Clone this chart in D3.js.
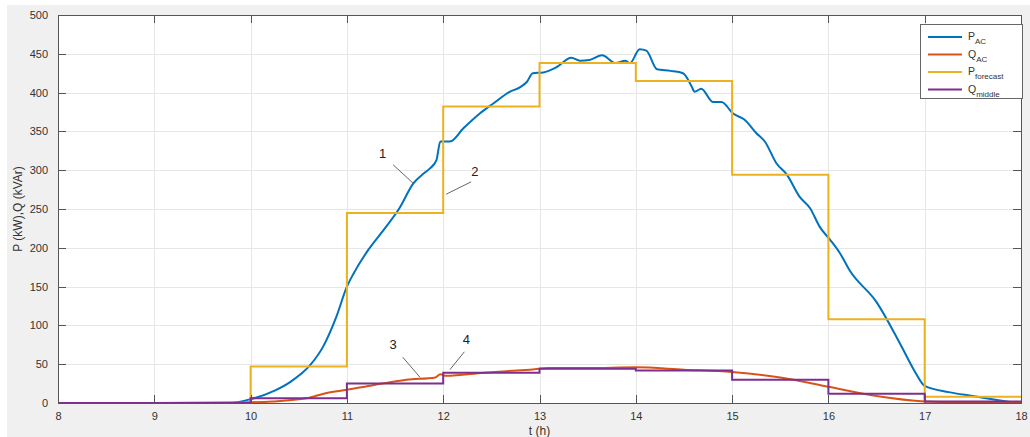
<!DOCTYPE html>
<html>
<head>
<meta charset="utf-8">
<script src="https://cdn.jsdelivr.net/npm/d3@7/dist/d3.min.js"></script>
<style>
  body { margin: 0; background: #fff; }
  svg { display: block; font-family: "Liberation Sans", Arial, sans-serif; }
</style>
</head>
<body>
<script>
// data
var pacT = [8, 8.5, 9, 9.5, 9.8, 10, 10.25, 10.41, 10.62, 10.75, 10.89, 11, 11.07, 11.22, 11.4, 11.55, 11.69, 11.8, 11.86, 11.93, 11.97, 12.07, 12.21, 12.38, 12.52, 12.69, 12.8, 12.87, 12.93, 13.04, 13.18, 13.33, 13.42, 13.52, 13.65, 13.79, 13.89, 13.94, 14.04, 14.11, 14.22, 14.36, 14.49, 14.58, 14.61, 14.68, 14.8, 14.89, 15.01, 15.13, 15.25, 15.34, 15.46, 15.57, 15.7, 15.81, 15.91, 16.02, 16.12, 16.22, 16.5, 16.75, 16.9, 17, 17.25, 17.5, 17.75, 17.9, 18];
var pacV = [0, -0.5, -1, -1, 0, 5, 16, 27, 49, 72, 111, 150, 167, 197, 226, 252, 283, 296, 302, 313, 337, 337, 354, 373, 386, 401, 407, 414, 425, 426, 433, 445, 441, 442, 448, 438, 441, 438, 456, 454, 430, 428, 425, 408, 401, 405, 388, 388, 373, 365, 348, 337, 309, 294, 266, 251, 227, 210, 193, 171, 130, 75, 40, 22, 14, 9, 4, 1, -1];

var qacT = [8, 9, 10, 10.23, 10.58, 10.79, 11, 11.27, 11.62, 11.92, 11.97, 12.03, 12.42, 12.9, 13.1, 13.5, 14, 14.5, 15, 15.5, 16, 16.5, 17, 17.5, 18];
var qacV = [0, 0, 1, 2, 6, 13, 17, 23, 30, 33, 37, 35, 39, 43, 45, 45, 46, 43, 40, 33, 21, 9, 2, 0.5, 0];

var stepHours = [8, 9, 10, 11, 12, 13, 14, 15, 16, 17, 18];
var pForecast = [0, 0, 47, 245, 382, 438, 415, 294, 108, 8];
var qMiddle = [0, 0, 6, 25, 39, 44, 42, 30, 12, 2];

var xTicks = [8, 9, 10, 11, 12, 13, 14, 15, 16, 17, 18];
var yTicks = [0, 50, 100, 150, 200, 250, 300, 350, 400, 450, 500];

var legendItems = [
  { main: "P", sub: "AC", color: "#0072BD" },
  { main: "Q", sub: "AC", color: "#D95319" },
  { main: "P", sub: "forecast", color: "#EDB120" },
  { main: "Q", sub: "middle", color: "#7E2F8E" }
];

// callouts: label position and leader line, in data units
var callouts = [
  { text: "1", t: 11.37, v: 316, from: [11.48, 307], to: [11.69, 283] },
  { text: "2", t: 12.33, v: 292, from: [12.29, 285], to: [12.03, 269] },
  { text: "3", t: 11.48, v: 70, from: [11.58, 59], to: [11.76, 33] },
  { text: "4", t: 12.24, v: 76, from: [12.22, 66], to: [12.07, 43] }
];

var W = 1030, H = 437;
var margin = { top: 15, right: 9, bottom: 34, left: 58 };

var svg = d3.select("body").append("svg")
  .attr("width", W)
  .attr("height", H);

// figure background
svg.append("rect").attr("x", 7).attr("y", 5).attr("width", W - 7).attr("height", H - 5).attr("fill", "#f0f0f0");

var x = d3.scaleLinear().domain([8, 18]).range([margin.left, W - margin.right]);
var y = d3.scaleLinear().domain([0, 500]).range([H - margin.bottom, margin.top]);

svg.append("rect")
  .attr("x", x(8)).attr("y", y(500))
  .attr("width", x(18) - x(8)).attr("height", y(0) - y(500))
  .attr("fill", "#fff");

// grid
var grid = svg.append("g").attr("stroke", "#e6e6e6").attr("stroke-width", 1);
grid.selectAll(".gx").data(xTicks.slice(1, -1)).enter().append("line")
  .attr("x1", d => Math.round(x(d)) + 0.5).attr("x2", d => Math.round(x(d)) + 0.5)
  .attr("y1", y(500)).attr("y2", y(0));
grid.selectAll(".gy").data(yTicks.slice(1, -1)).enter().append("line")
  .attr("y1", d => Math.round(y(d)) + 0.5).attr("y2", d => Math.round(y(d)) + 0.5)
  .attr("x1", x(8)).attr("x2", x(18));

// series
var clip = svg.append("clipPath").attr("id", "clip").append("rect")
  .attr("x", x(8)).attr("y", y(500)).attr("width", x(18) - x(8)).attr("height", y(0) - y(500) + 1);
var plot = svg.append("g").attr("clip-path", "url(#clip)");

function stepPoints(vals) {
  var pts = [];
  vals.forEach(function (v, i) { pts.push([stepHours[i], v]); });
  pts.push([stepHours[vals.length], vals[vals.length - 1]]);
  return pts;
}
var stepLine = d3.line().x(d => x(d[0])).y(d => y(d[1])).curve(d3.curveStepAfter);
var smooth = d3.line().x(d => x(d[0])).y(d => y(d[1])).curve(d3.curveMonotoneX);

plot.append("path").datum(pacT.map((t, i) => [t, pacV[i]]))
  .attr("d", smooth).attr("fill", "none").attr("stroke", "#0072BD").attr("stroke-width", 2);
plot.append("path").datum(qacT.map((t, i) => [t, qacV[i]]))
  .attr("d", smooth).attr("fill", "none").attr("stroke", "#D95319").attr("stroke-width", 2);
plot.append("path").datum(stepPoints(pForecast))
  .attr("d", stepLine).attr("fill", "none").attr("stroke", "#EDB120").attr("stroke-width", 2);
plot.append("path").datum(stepPoints(qMiddle))
  .attr("d", stepLine).attr("fill", "none").attr("stroke", "#7E2F8E").attr("stroke-width", 2);

// axes (box with ticks on all sides)
var axisColor = "#555";
var xAxis = svg.append("g").attr("transform", "translate(0," + y(0) + ")")
  .call(d3.axisBottom(x).tickValues(xTicks).tickSize(0).tickPadding(9).tickFormat(d3.format("d")));
var yAxis = svg.append("g").attr("transform", "translate(" + x(8) + ",0)")
  .call(d3.axisLeft(y).tickValues(yTicks).tickSize(0).tickPadding(10).tickFormat(d3.format("d")));
[xAxis, yAxis].forEach(function (g) {
  g.select(".domain").remove();
  g.selectAll("text").attr("fill", "#333").style("font-size", "11px").style("font-family", "'Liberation Sans', Arial, sans-serif");
});

var ticks = svg.append("g").attr("stroke", axisColor).attr("stroke-width", 1);
ticks.selectAll(".tb").data(xTicks.slice(1, -1)).enter().append("line")
  .attr("x1", d => Math.round(x(d)) + 0.5).attr("x2", d => Math.round(x(d)) + 0.5)
  .attr("y1", y(0)).attr("y2", y(0) - 8);
ticks.selectAll(".tt").data(xTicks.slice(1, -1)).enter().append("line")
  .attr("x1", d => Math.round(x(d)) + 0.5).attr("x2", d => Math.round(x(d)) + 0.5)
  .attr("y1", y(500)).attr("y2", y(500) + 8);
ticks.selectAll(".tl").data(yTicks.slice(1, -1)).enter().append("line")
  .attr("y1", d => Math.round(y(d)) + 0.5).attr("y2", d => Math.round(y(d)) + 0.5)
  .attr("x1", x(8)).attr("x2", x(8) + 8);
ticks.selectAll(".tr").data(yTicks.slice(1, -1)).enter().append("line")
  .attr("y1", d => Math.round(y(d)) + 0.5).attr("y2", d => Math.round(y(d)) + 0.5)
  .attr("x1", x(18)).attr("x2", x(18) - 8);

svg.append("rect")
  .attr("x", Math.round(x(8)) + 0.5).attr("y", Math.round(y(500)) + 0.5)
  .attr("width", Math.round(x(18) - x(8))).attr("height", Math.round(y(0) - y(500)))
  .attr("fill", "none").attr("stroke", axisColor).attr("stroke-width", 1);

// axis titles
svg.append("text")
  .attr("x", x(13)).attr("y", H - 2)
  .attr("text-anchor", "middle").attr("fill", "#333").style("font-size", "12px")
  .text("t (h)");
svg.append("text")
  .attr("transform", "translate(22," + y(250) + ") rotate(-90)")
  .attr("text-anchor", "middle").attr("fill", "#333").style("font-size", "12px")
  .text("P (kW),Q (kVAr)");

// callouts
var co = svg.append("g");
callouts.forEach(function (c) {
  co.append("line")
    .attr("x1", x(c.from[0])).attr("y1", y(c.from[1]))
    .attr("x2", x(c.to[0])).attr("y2", y(c.to[1]))
    .attr("stroke", "#666").attr("stroke-width", 1);
  co.append("text")
    .attr("x", x(c.t)).attr("y", y(c.v))
    .attr("text-anchor", "middle").attr("fill", "#222").style("font-size", "13px")
    .text(c.text);
});

// legend
var lx = 920, ly = 24, lw = 102, lh = 74;
var legend = svg.append("g");
legend.append("rect")
  .attr("x", lx + 0.5).attr("y", ly + 0.5).attr("width", lw).attr("height", lh)
  .attr("fill", "#fff").attr("stroke", "#666").attr("stroke-width", 1);
legendItems.forEach(function (d, i) {
  var yy = ly + 13 + i * 17.5;
  legend.append("line")
    .attr("x1", lx + 8).attr("x2", lx + 42)
    .attr("y1", yy).attr("y2", yy)
    .attr("stroke", d.color).attr("stroke-width", 2);
  var t = legend.append("text")
    .attr("x", lx + 48).attr("y", yy + 3)
    .attr("fill", "#333").style("font-size", "10.5px");
  t.append("tspan").text(d.main);
  t.append("tspan").attr("dy", 4).style("font-size", "8px").text(d.sub);
});
</script>
</body>
</html>
